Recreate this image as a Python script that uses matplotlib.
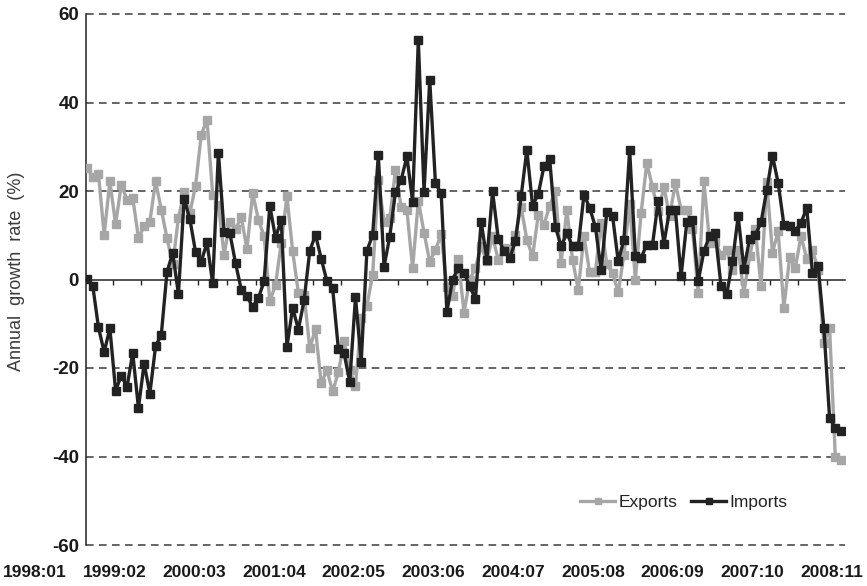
import matplotlib
matplotlib.use("Agg")
import matplotlib.pyplot as plt
import numpy as np

plt.rcParams['font.family'] = ['Liberation Sans', 'DejaVu Sans']

# ---- data (monthly, 1998:01 onward) ----
exports = [25.2, 23.2, 23.9, 10.1, 22.2, 12.5, 21.4, 18.0, 18.5, 9.4,
           12.0, 13.1, 22.2, 15.8, 9.4, 3.4, 13.9, 19.7, 15.0, 21.2,
           32.7, 36.1, 19.2, 16.9, 5.6, 12.9, 11.3, 14.1, 6.9, 19.5,
           13.5, 9.8, -4.9, -1.2, 8.2, 18.8, 6.4, -3.0, -3.5, -15.5,
           -11.2, -23.5, -20.5, -25.3, -21.0, -14.0, -20.5, -24.0, -8.8, -5.9,
           1.0, 22.5, 13.1, 13.8, 24.7, 16.3, 15.7, 2.5, 17.8, 10.6,
           4.0, 6.7, 10.2, -1.6, -3.7, 4.6, -7.5, 0.0, 2.6, 7.5,
           4.1, 9.8, 4.3, 7.1, 6.9, 10.1, 16.4, 9.0, 5.2, 14.6,
           12.4, 16.7, 19.9, 3.7, 15.8, 4.5, -2.3, 9.8, 1.6, 1.8,
           12.8, 3.4, 1.5, -2.9, 5.6, 17.1, 0.0, 15.0, 26.3, 20.9,
           15.4, 20.9, 14.3, 21.8, 15.8, 15.8, 11.3, -3.0, 22.2, 8.2,
           8.4, 5.6, 6.7, 2.2, 6.7, -3.0, 5.2, 11.3, -1.5, 22.0,
           6.1, 10.9, -6.4, 5.0, 2.6, 9.8, 4.7, 6.7, 2.2, -14.4,
           -10.9, -40.0, -40.7]

imports = [0.2, -1.4, -10.8, -16.4, -11.0, -25.1, -21.7, -24.3, -16.6, -29.0,
           -19.0, -25.8, -15.1, -12.5, 1.7, 6.0, -3.3, 18.2, 13.7, 6.2,
           4.0, 8.4, -0.9, 28.7, 10.7, 10.5, 3.7, -2.3, -3.8, -6.2,
           -4.2, -0.4, 16.7, 9.4, 13.5, -15.2, -6.4, -11.3, -4.7, 6.5,
           10.1, 4.7, -0.4, -2.0, -15.7, -16.7, -23.1, -4.0, -18.6, 6.5,
           10.0, 28.1, 2.9, 9.7, 19.8, 22.5, 27.8, 17.6, 54.1, 19.8,
           45.1, 21.7, 19.5, -7.3, 0.0, 2.6, 1.5, -1.5, -4.4, 13.1,
           4.5, 19.9, 9.2, 6.5, 4.9, 8.6, 18.8, 29.3, 16.7, 19.3,
           25.6, 27.2, 11.9, 7.5, 10.5, 7.5, 7.5, 19.2, 16.2, 11.9,
           2.1, 15.2, 14.4, 4.1, 9.0, 29.2, 5.4, 4.9, 7.9, 7.9,
           17.7, 8.1, 15.8, 15.8, 0.7, 12.9, 13.5, -0.4, 6.4, 9.9,
           10.4, -1.5, -3.3, 4.1, 14.3, 2.4, 9.2, 10.1, 12.9, 20.2,
           28.0, 21.8, 12.4, 12.0, 10.9, 12.8, 16.2, 1.5, 3.0, -10.9,
           -31.3, -33.6, -34.3]

x_labels = ['1998:01', '1999:02', '2000:03', '2001:04', '2002:05', '2003:06',
            '2004:07', '2005:08', '2006:09', '2007:10', '2008:11']
y_ticks = [-60, -40, -20, 0, 20, 40, 60]
series_names = ['Exports', 'Imports']

# ---- figure ----
W, H = 867, 586
fig = plt.figure(figsize=(W / 100, H / 100), dpi=100)
ax = fig.add_axes([86 / W, 41 / H, 759 / W, 531 / H])

x = np.arange(len(exports))
gray = '#a6a6a6'
dark = '#222222'
ax.plot(x, exports, color=gray, lw=2.4, marker='s', ms=6.2,
        mfc=gray, mec=gray, label=series_names[0], zorder=3)
ax.plot(x, imports, color=dark, lw=2.4, marker='s', ms=6.2,
        mfc=dark, mec=dark, label=series_names[1], zorder=4)

ax.set_xlim(-0.18, 132.7)
ax.set_ylim(-60, 60)

# dashed gridlines
for yv in y_ticks:
    if yv != 0:
        ax.axhline(yv, color='#3a3a3a', lw=1.1, ls=(0, (5, 3.5)),
                   clip_on=False, zorder=1)

# spines
for s in ['top', 'right']:
    ax.spines[s].set_visible(False)
ax.spines['left'].set_color('#222222')
ax.spines['left'].set_linewidth(1.1)
ax.spines['bottom'].set_position(('data', 0))
ax.spines['bottom'].set_color('#222222')
ax.spines['bottom'].set_linewidth(1.1)
ax.spines['bottom'].set_zorder(2)

ax.set_xticks(np.arange(4.5, 132, 5))
ax.tick_params(axis='x', direction='out', length=3.5, width=1.0,
               color='#222222', labelbottom=False)
ax.set_yticks(y_ticks)
ax.set_yticklabels([str(v) for v in y_ticks], fontsize=13.5,
                   fontweight='bold', color='#1a1a1a')
ax.tick_params(axis='y', length=0, pad=5)

fig.text(17 / W, 1 - 271 / H, 'Annual  growth  rate  (%)', rotation=90,
         ha='center', va='center', fontsize=13, color='#3a3a3a')

# category labels row
lab = fig.add_axes([0, 21 / H, 1, 1 / H])
lab.set_xlim(-35 / 79.7, (W - 35) / 79.7)
lab.set_ylim(0, 1)
lab.set_xticks(range(len(x_labels)))
lab.set_xticklabels(x_labels, fontsize=12.5, fontweight='bold', color='#1a1a1a')
lab.tick_params(axis='x', length=0, pad=0)
lab.set_yticks([])
for s in lab.spines.values():
    s.set_visible(False)
lab.patch.set_alpha(0)

leg = ax.legend(loc='center', bbox_to_anchor=((684 - 86) / 759, (545 - 502) / 531),
                ncol=2, frameon=False, fontsize=12.5, handlelength=2.0,
                handletextpad=0.2, columnspacing=0.8, markerscale=0.8)
for t in leg.get_texts():
    t.set_color('#222222')

fig.savefig('out.png', dpi=100)
